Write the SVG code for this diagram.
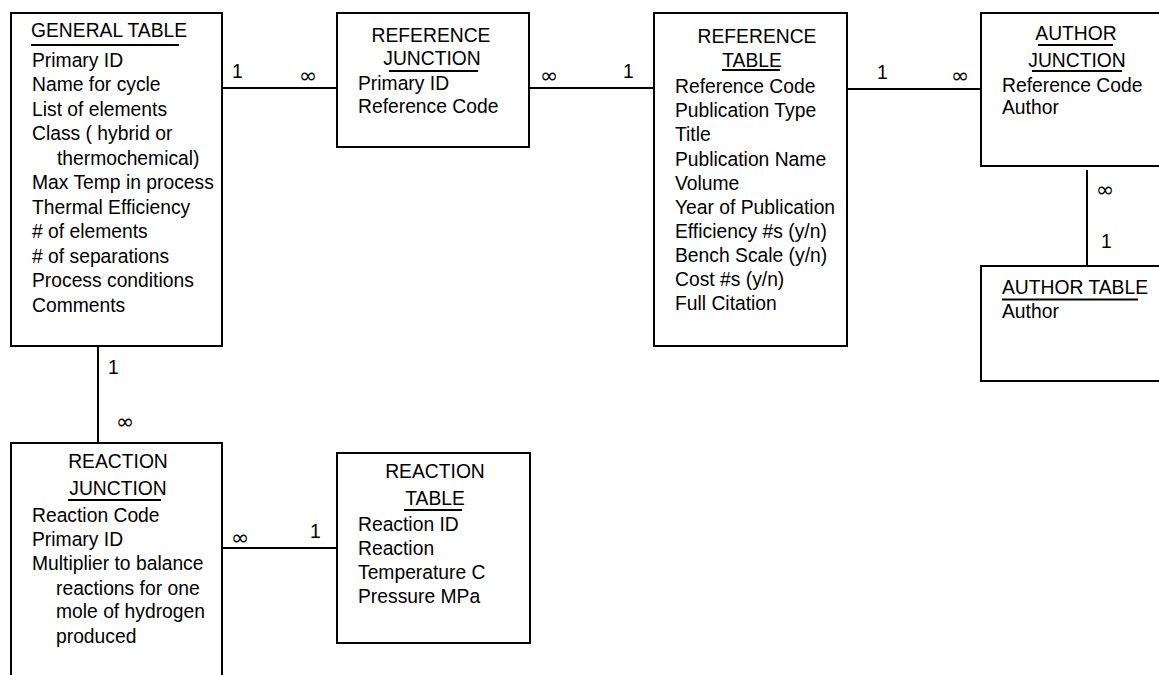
<svg xmlns="http://www.w3.org/2000/svg" width="1159" height="675" viewBox="0 0 1159 675">
<style>
.box{fill:#fff;stroke:#000;stroke-width:2}
.ln{stroke:#000;stroke-width:2;fill:none}
.ul{stroke:#000;stroke-width:2}
text{font-family:"Liberation Sans",Arial,sans-serif;font-size:19.3px;fill:#000}
.c{text-anchor:middle}
.sym{font-family:"DejaVu Sans","Liberation Sans",sans-serif;font-size:22px}
</style>
<rect width="1159" height="675" fill="#fff"/>
<g id="connectors">
<line class="ln" x1="222" y1="88" x2="337" y2="88"/>
<text x="232" y="78">1</text>
<text class="sym" x="299" y="83">∞</text>
<line class="ln" x1="529" y1="88" x2="654" y2="88"/>
<text class="sym" x="540" y="83">∞</text>
<text x="623" y="78">1</text>
<line class="ln" x1="847" y1="89" x2="981" y2="89"/>
<text x="877" y="79">1</text>
<text class="sym" x="951" y="83">∞</text>
<line class="ln" x1="1087" y1="170" x2="1087" y2="266"/>
<text class="sym" x="1096" y="197">∞</text>
<text x="1101" y="248">1</text>
<line class="ln" x1="98" y1="346" x2="98" y2="443"/>
<text x="108" y="374">1</text>
<text class="sym" x="116" y="429">∞</text>
<line class="ln" x1="222" y1="548" x2="337" y2="548"/>
<text class="sym" x="231" y="545">∞</text>
<text x="310" y="538">1</text>
</g>
<g id="general-table">
<rect class="box" x="11" y="13" width="211" height="333"/>
<text x="31" y="37">GENERAL TABLE</text>
<line class="ul" x1="31" y1="45" x2="179" y2="45"/>
<text x="32" y="66.5">Primary ID</text>
<text x="32" y="91">Name for cycle</text>
<text x="32" y="115.5">List of elements</text>
<text x="32" y="140">Class ( hybrid or</text>
<text x="57" y="164.5">thermochemical)</text>
<text x="32" y="189">Max Temp in process</text>
<text x="32" y="213.5">Thermal Efficiency</text>
<text x="32" y="238"># of elements</text>
<text x="32" y="262.5"># of separations</text>
<text x="32" y="287">Process conditions</text>
<text x="32" y="311.5">Comments</text>
</g>
<g id="reference-junction">
<rect class="box" x="337" y="13" width="192" height="134"/>
<text class="c" x="431" y="42">REFERENCE</text>
<text class="c" x="432" y="65">JUNCTION</text>
<line class="ul" x1="389" y1="71" x2="478" y2="71"/>
<text x="358" y="90">Primary ID</text>
<text x="358" y="113">Reference Code</text>
</g>
<g id="reference-table">
<rect class="box" x="654" y="13" width="193" height="333"/>
<text class="c" x="757" y="43">REFERENCE</text>
<text class="c" x="752" y="67">TABLE</text>
<line class="ul" x1="722" y1="70" x2="780" y2="70"/>
<text x="675" y="93">Reference Code</text>
<text x="675" y="117">Publication Type</text>
<text x="675" y="141">Title</text>
<text x="675" y="165.5">Publication Name</text>
<text x="675" y="189.5">Volume</text>
<text x="675" y="213.5">Year of Publication</text>
<text x="675" y="237.5">Efficiency #s (y/n)</text>
<text x="675" y="262">Bench Scale (y/n)</text>
<text x="675" y="286">Cost #s (y/n)</text>
<text x="675" y="310">Full Citation</text>
</g>
<g id="author-junction">
<rect class="box" x="981" y="13" width="200" height="153"/>
<text class="c" x="1076" y="39.5">AUTHOR</text>
<line class="ul" x1="1038" y1="45" x2="1113" y2="45"/>
<text class="c" x="1077" y="66.5">JUNCTION</text>
<line class="ul" x1="1032" y1="71" x2="1122" y2="71"/>
<text x="1002" y="91.5">Reference Code</text>
<text x="1002" y="114">Author</text>
</g>
<g id="author-table">
<rect class="box" x="981" y="266" width="200" height="115"/>
<text x="1002" y="294">AUTHOR TABLE</text>
<line class="ul" x1="1002" y1="299.5" x2="1138" y2="299.5"/>
<text x="1002" y="318">Author</text>
</g>
<g id="reaction-junction">
<rect class="box" x="11" y="443" width="211" height="260"/>
<text class="c" x="118" y="468">REACTION</text>
<text class="c" x="118" y="495">JUNCTION</text>
<line class="ul" x1="68" y1="500" x2="161" y2="500"/>
<text x="32" y="522">Reaction Code</text>
<text x="32" y="546">Primary ID</text>
<text x="32" y="570">Multiplier to balance</text>
<text x="56" y="594.5">reactions for one</text>
<text x="56" y="618">mole of hydrogen</text>
<text x="56" y="642.5">produced</text>
</g>
<g id="reaction-table">
<rect class="box" x="337" y="453" width="193" height="190"/>
<text class="c" x="435" y="478">REACTION</text>
<text class="c" x="435" y="505">TABLE</text>
<line class="ul" x1="404" y1="510" x2="462" y2="510"/>
<text x="358" y="531">Reaction ID</text>
<text x="358" y="555">Reaction</text>
<text x="358" y="579">Temperature C</text>
<text x="358" y="603">Pressure MPa</text>
</g>
</svg>
